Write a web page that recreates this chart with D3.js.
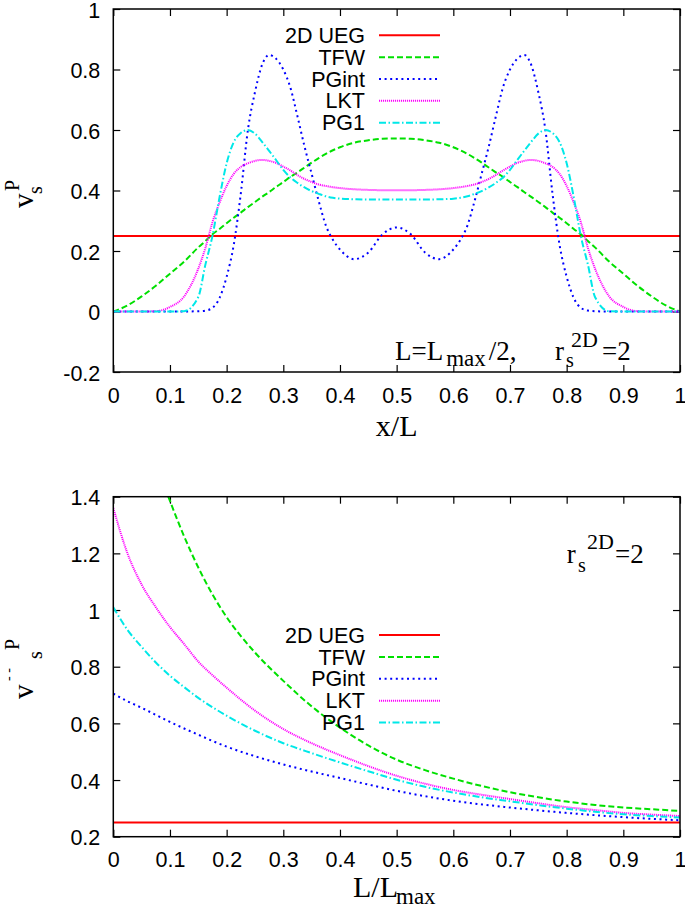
<!DOCTYPE html>
<html><head><meta charset="utf-8">
<script src="https://cdn.jsdelivr.net/npm/d3@7"></script>
<style>body{margin:0;background:#fff}</style>
</head><body>
<svg id="c" width="685" height="910"></svg>
<script>
// ---------------- DATA ----------------
const seriesNames = ["2D UEG", "TFW", "PGint", "LKT", "PG1"];

// Top panel: v_s^P versus x/L
const xTop = [0,0.025,0.05,0.075,0.1,0.125,0.15,0.1625,0.175,0.1875,0.2,0.2125,0.225,0.2375,0.25,0.2625,0.275,0.2875,0.3,0.3125,0.325,0.3375,0.35,0.3625,0.375,0.3875,0.4,0.425,0.45,0.475,0.5,
  0.525,0.55,0.575,0.6,0.6125,0.625,0.6375,0.65,0.6625,0.675,0.6875,0.7,0.7125,0.725,0.7375,0.75,0.7625,0.775,0.7875,0.8,0.8125,0.825,0.8375,0.85,0.875,0.9,0.925,0.95,0.975,1];
const uegTopX = [0, 1];
const uegTopY = [0.25, 0.25];
const tfwTop = [0,0.02,0.05,0.085,0.125,0.165,0.212,0.233,0.255,0.273,0.292,0.31,0.327,0.345,0.362,0.379,0.395,0.412,0.428,0.445,0.46,0.476,0.492,0.507,0.521,0.533,0.543,0.558,0.566,0.571,0.572,
  0.571,0.566,0.558,0.543,0.533,0.521,0.507,0.492,0.476,0.46,0.445,0.428,0.412,0.395,0.379,0.362,0.345,0.327,0.31,0.292,0.273,0.255,0.233,0.212,0.165,0.125,0.085,0.05,0.02,0];
const pgintTop = [0,0,0,0,0,0,0.001,0.003,0.012,0.045,0.115,0.22,0.39,0.6,0.725,0.815,0.848,0.835,0.8,0.74,0.645,0.545,0.455,0.365,0.285,0.237,0.205,0.173,0.195,0.255,0.278,
  0.255,0.195,0.173,0.205,0.237,0.285,0.365,0.455,0.545,0.645,0.74,0.8,0.835,0.848,0.815,0.725,0.6,0.39,0.22,0.115,0.045,0.012,0.003,0.001,0,0,0,0,0,0];
const lktTop = [0,0,0,0.001,0.015,0.05,0.142,0.21,0.295,0.36,0.415,0.455,0.478,0.49,0.498,0.501,0.498,0.491,0.479,0.466,0.451,0.438,0.428,0.42,0.415,0.411,0.408,0.404,0.402,0.401,0.401,
  0.401,0.402,0.404,0.408,0.411,0.415,0.42,0.428,0.438,0.451,0.466,0.479,0.491,0.498,0.501,0.498,0.49,0.478,0.455,0.415,0.36,0.295,0.21,0.142,0.05,0.015,0.001,0,0,0];
const pg1Top = [0,0,0,0,0,0.001,0.048,0.155,0.25,0.378,0.49,0.56,0.59,0.6,0.588,0.561,0.531,0.5,0.468,0.443,0.425,0.41,0.398,0.389,0.381,0.376,0.373,0.371,0.37,0.37,0.37,
  0.37,0.37,0.371,0.373,0.376,0.381,0.389,0.398,0.41,0.425,0.443,0.468,0.5,0.531,0.561,0.588,0.6,0.59,0.56,0.49,0.378,0.25,0.155,0.048,0.001,0,0,0,0,0];

// Bottom panel: averaged v_s^P versus L/Lmax
const xBot = [0,0.025,0.05,0.075,0.1,0.125,0.15,0.175,0.2,0.25,0.3,0.35,0.4,0.45,0.5,0.55,0.6,0.65,0.7,0.75,0.8,0.85,0.9,0.95,1];
const uegBotX = [0, 1];
const uegBotY = [0.25, 0.25];
const tfwBot = [null,null,null,1.52,1.385,1.26,1.15,1.055,0.975,0.85,0.75,0.66,0.585,0.522,0.472,0.435,0.405,0.379,0.357,0.339,0.324,0.312,0.303,0.297,0.291];
const pgintBot = [0.705,0.678,0.655,0.63,0.605,0.582,0.56,0.538,0.518,0.484,0.455,0.43,0.407,0.384,0.362,0.343,0.327,0.314,0.303,0.293,0.284,0.276,0.269,0.263,0.258];
const lktBot = [1.36,1.2,1.09,1.01,0.94,0.88,0.818,0.77,0.726,0.645,0.58,0.53,0.488,0.449,0.415,0.387,0.365,0.348,0.333,0.318,0.304,0.294,0.284,0.278,0.273];
const pg1Bot = [1.01,0.93,0.87,0.815,0.768,0.728,0.69,0.657,0.627,0.574,0.53,0.495,0.462,0.431,0.401,0.376,0.356,0.339,0.325,0.311,0.299,0.288,0.279,0.273,0.268];

// Ticks
const xTicks = [0,0.1,0.2,0.3,0.4,0.5,0.6,0.7,0.8,0.9,1];
const xTickLabels = ["0","0.1","0.2","0.3","0.4","0.5","0.6","0.7","0.8","0.9","1"];
const yTopTicks = [-0.2,0,0.2,0.4,0.6,0.8,1];
const yTopTickLabels = ["-0.2","0","0.2","0.4","0.6","0.8","1"];
const yBotTicks = [0.2,0.4,0.6,0.8,1,1.2,1.4];
const yBotTickLabels = ["0.2","0.4","0.6","0.8","1","1.2","1.4"];

// ---------------- STYLE ----------------
const colors = ["#ff0000","#00e000","#0000ff","#ff00ff","#00e8e8"];
const dashes = [null,"6,3","2,3.6","1.1,0.9","7,2.5,1.5,2.5"];
const SANS = "'Liberation Sans', Arial, Helvetica, sans-serif";
const SERIF = "'Liberation Serif', 'Times New Roman', serif";
const TICK_FS = 21.5;

const svg = d3.select("#c");
svg.append("rect").attr("width",685).attr("height",910).attr("fill","#fff");

function panel(id, box, yDomain, yTicks, yLabels, series) {
  const x = d3.scaleLinear().domain([0,1]).range([box.left, box.right]);
  const y = d3.scaleLinear().domain(yDomain).range([box.bottom, box.top]);
  const g = svg.append("g");

  g.append("clipPath").attr("id", id).append("rect")
    .attr("x", box.left).attr("y", box.top)
    .attr("width", box.right - box.left).attr("height", box.bottom - box.top);

  const fmt = labels => (d, i) => labels[i];
  const axes = [
    g.append("g").attr("transform", `translate(0,${box.bottom})`)
      .call(d3.axisBottom(x).tickValues(xTicks).tickFormat(fmt(xTickLabels)).tickSizeInner(-7).tickSizeOuter(0).tickPadding(15.3)),
    g.append("g").attr("transform", `translate(0,${box.top})`)
      .call(d3.axisTop(x).tickValues(xTicks).tickFormat("").tickSizeInner(-7).tickSizeOuter(0)),
    g.append("g").attr("transform", `translate(${box.left},0)`)
      .call(d3.axisLeft(y).tickValues(yTicks).tickFormat(fmt(yLabels)).tickSizeInner(-7).tickSizeOuter(0).tickPadding(13)),
    g.append("g").attr("transform", `translate(${box.right},0)`)
      .call(d3.axisRight(y).tickValues(yTicks).tickFormat("").tickSizeInner(-7).tickSizeOuter(0))
  ];
  axes.forEach(a => {
    a.select(".domain").remove();
    a.selectAll("line").attr("stroke","#000").attr("stroke-width",1.2);
    a.selectAll("text").attr("font-family", SANS).attr("font-size", TICK_FS).attr("fill","#000");
  });
  axes[2].selectAll("text").attr("dy","0.38em");

  const line = d3.line()
    .defined(d => d[1] != null)
    .x(d => x(d[0])).y(d => y(d[1]))
    .curve(d3.curveMonotoneX);
  const lg = g.append("g").attr("clip-path", `url(#${id})`);
  series.forEach((s, i) => {
    const pts = s.x.map((v, k) => [v, s.y[k]]);
    lg.append("path").attr("d", line(pts))
      .attr("fill","none").attr("stroke", colors[i]).attr("stroke-width", 2)
      .attr("stroke-dasharray", dashes[i]);
  });

  g.append("rect").attr("x", box.left).attr("y", box.top)
    .attr("width", box.right - box.left).attr("height", box.bottom - box.top)
    .attr("fill","none").attr("stroke","#000").attr("stroke-width",1.5);

  return {x, y, g};
}

function legend(g, y0, step) {
  seriesNames.forEach((name, i) => {
    const yy = y0 + i * step;
    g.append("text").attr("x", 365).attr("y", yy + 7.6).attr("text-anchor","end")
      .attr("font-family", SANS).attr("font-size", TICK_FS).text(name);
    g.append("line").attr("x1", 379).attr("x2", 440).attr("y1", yy).attr("y2", yy)
      .attr("stroke", colors[i]).attr("stroke-width", 2).attr("stroke-dasharray", dashes[i]);
  });
}

function rotText(x, y, str, size) {
  svg.append("text").attr("transform", `translate(${x},${y}) rotate(-90)`)
    .attr("font-family", SERIF).attr("font-size", size).text(str);
}
function plainText(x, y, str, size) {
  return svg.append("text").attr("x", x).attr("y", y)
    .attr("font-family", SERIF).attr("font-size", size).text(str);
}

// ---------------- TOP PANEL ----------------
const topBox = {left:113.3, right:680, top:9, bottom:372};
const topPanel = panel("clipTop", topBox, [-0.2, 1], yTopTicks, yTopTickLabels, [
  {x: uegTopX, y: uegTopY}, {x: xTop, y: tfwTop}, {x: xTop, y: pgintTop},
  {x: xTop, y: lktTop}, {x: xTop, y: pg1Top}
]);
legend(topPanel.g, 35.3, 21.85);

// annotation  L=L_max/2,   r_s^2D=2
{
  const t = svg.append("text").attr("x", 395).attr("y", 360)
    .attr("font-family", SERIF).attr("font-size", 27);
  t.append("tspan").text("L=L");
  t.append("tspan").attr("font-size", 23).attr("dx", 3).attr("dy", 6).text("max");
  t.append("tspan").attr("dx", 3).attr("dy", -6).text("/2,");
}
plainText(555, 360, "r", 27);
plainText(566, 367, "s", 20);
plainText(571, 347, "2D", 22);
plainText(602, 360, "=2", 27);

// axis titles
svg.append("text").attr("x", 396.7).attr("y", 436).attr("text-anchor","middle")
  .attr("font-family", SERIF).attr("font-size", 30).text("x/L");
rotText(33, 208, "v", 29);
rotText(42, 194, "s", 20);
rotText(19, 191, "P", 20);

// ---------------- BOTTOM PANEL ----------------
const botBox = {left:113.3, right:680, top:496.7, bottom:836.7};
const botPanel = panel("clipBot", botBox, [0.2, 1.4], yBotTicks, yBotTickLabels, [
  {x: uegBotX, y: uegBotY}, {x: xBot, y: tfwBot}, {x: xBot, y: pgintBot},
  {x: xBot, y: lktBot}, {x: xBot, y: pg1Bot}
]);
legend(botPanel.g, 635, 21.9);

// annotation r_s^2D=2
plainText(566.7, 563.3, "r", 27);
plainText(578, 572, "s", 20);
plainText(587, 549, "2D", 22);
plainText(615, 563.3, "=2", 27);

// axis title L/L_max
plainText(353, 897, "L/L", 30);
plainText(396, 904, "max", 23);

rotText(33, 699, "v", 29);
rotText(13, 681, "- -", 14);
rotText(42, 659, "s", 20);
rotText(19, 650, "P", 20);
</script>
</body></html>
